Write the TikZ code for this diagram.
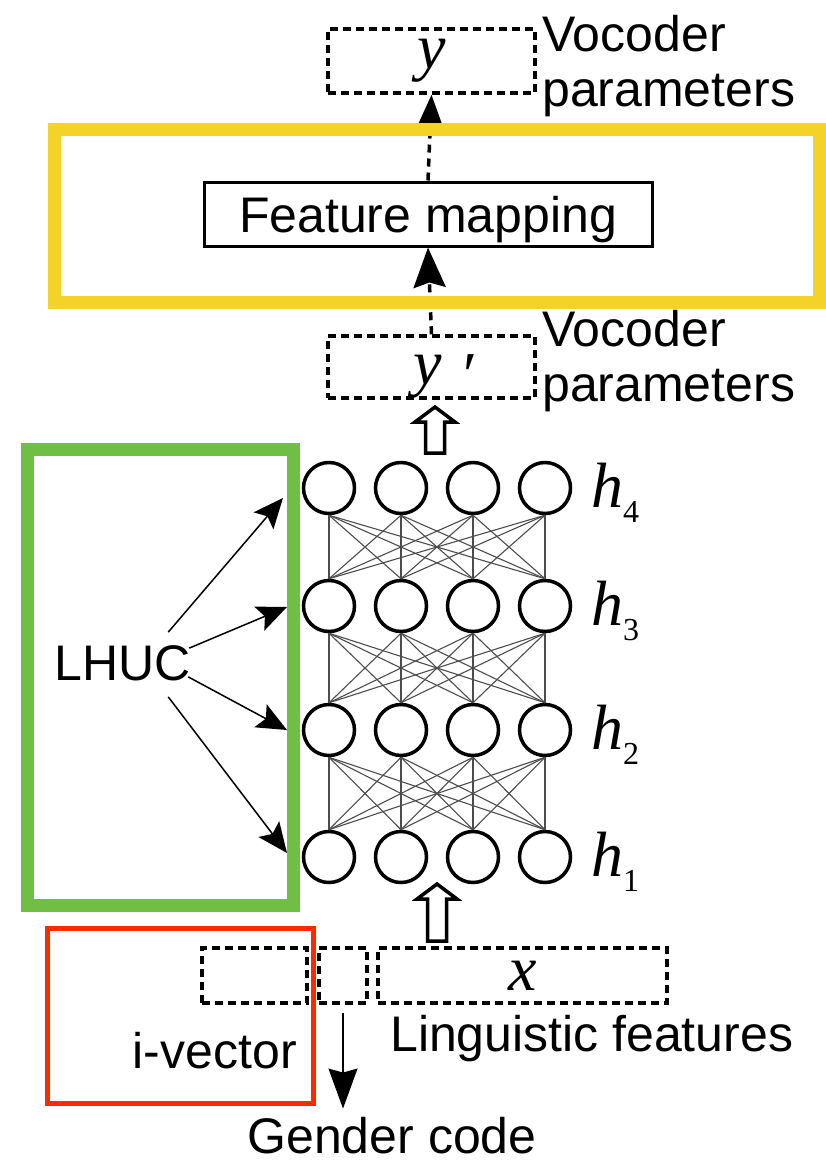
\documentclass[tikz,border=0pt]{standalone}
\usepackage{fontspec}
\setmainfont{Liberation Sans}
\newfontfamily\tms{Liberation Serif}
\usetikzlibrary{arrows.meta, calc}

% frame colours
\definecolor{lhucgreen}{RGB}{112,190,68}
\definecolor{mapyellow}{RGB}{245,210,40}
\definecolor{ivecred}{RGB}{255,42,0}

\tikzset{
  neuron/.style={circle, draw, line width=3.5pt, minimum size=51pt, inner sep=0pt},
  link/.style={line width=1.1pt, draw=black!70},
  vecbox/.style={draw, line width=3.5pt, dash pattern=on 8pt off 5pt, inner sep=0pt},
  mathlbl/.style={font=\fontsize{64}{64}\selectfont\tms\itshape, inner sep=0pt},
  dasharrow/.style={line width=3.5pt, dash pattern=on 8pt off 6pt,
    -{Stealth[length=40pt, width=32pt, inset=5pt]}},
  lhucarrow/.style={line width=1.5pt, -{Stealth[length=30pt, width=26pt, inset=6pt]}},
}

% hollow block arrow: x, tip y, bottom y
\newcommand{\hollowarrow}[3]{%
  \draw[line width=3.5pt, fill=white] (#1,#2) -- (#1+20,#2+15) -- (#1+9.5,#2+15)
    -- (#1+9.5,#3) -- (#1-9.5,#3) -- (#1-9.5,#2+15) -- (#1-20,#2+15) -- cycle;}

\begin{document}
\begin{tikzpicture}[x=1pt, y=-1pt, font=\fontsize{50}{55}\selectfont]

    \useasboundingbox (0,0) rectangle (826,1162);

    % Hidden layers h1..h4, four units each
    \foreach \r/\yy in {1/857, 2/730, 3/606, 4/488} {
        \foreach \c in {1,...,4} {
            \node[neuron] (n\r\c) at ({329+72*(\c-1)}, \yy) {};
        }
        \node[mathlbl, anchor=base west] (h\r) at (591, \yy+19)
            {h\raisebox{-15pt}{\fontsize{32}{32}\selectfont\upshape \r}};
    }

    % Full connections between neighbouring layers
    \foreach \r in {1,2,3} {
        \pgfmathtruncatemacro\up{\r+1}
        \foreach \a in {1,...,4} {
            \foreach \b in {1,...,4} {
                \draw[link] (n\up\a.south) -- (n\r\b.north);
            }
        }
    }

    % Output vectors
    \node[vecbox, minimum width=207pt, minimum height=64pt, mathlbl] (ybox) at (431.5,61) {y};
    \node[vecbox, minimum width=207pt, minimum height=62pt] (ypbox) at (431.5,367) {};
    \node[mathlbl, anchor=base west] (yplbl) at (413,384)
        {y\hspace{18pt}\raisebox{-12pt}{\char"2032}};
    \node[anchor=base west, align=left, inner sep=0pt] (yname) at (542,106) {Vocoder\\parameters};
    \node[anchor=base west, align=left, inner sep=0pt] (ypname) at (542,401) {Vocoder\\parameters};

    % Feature mapping block
    \node[draw, line width=3pt, minimum width=448pt, minimum height=64pt, text depth=0pt]
        (fmap) at (428,214) {Feature mapping};
    \draw[dasharrow] (fmap.north) -- (ybox.south);
    \draw[dasharrow] (ypbox.north) -- (fmap.south);

    % Block arrows into and out of the network
    \hollowarrow{435}{407}{453}
    \hollowarrow{437}{884}{941}

    % Input vectors
    \node[vecbox, minimum width=105pt, minimum height=55pt] (ivbox) at (254.5,975.5) {};
    \node[vecbox, minimum width=48pt, minimum height=55pt] (gbox) at (343,975.5) {};
    \node[vecbox, minimum width=289pt, minimum height=55pt, mathlbl] (xbox) at (522.5,975.5) {x};

    \node[anchor=base west, inner sep=0pt] (ling) at (390,1051) {Linguistic features};
    \node[anchor=base east, inner sep=0pt] (ivec) at (297,1068) {i-vector};
    \node[anchor=base, inner sep=0pt] (gender) at (392,1153) {Gender code};
    \draw[line width=1.5pt, -{Stealth[length=40pt, width=29pt, inset=4pt]},
        shorten <=8pt, shorten >=8pt] (gbox.south) -- (gbox.south |- gender.north);

    % LHUC scaling arrows
    \node[inner sep=0pt] (lhuc) at (123,663) {LHUC};
    \draw[lhucarrow] ([shift={(-23,-13)}]lhuc.north east) -- ([shift={(-46,10)}]n41.center);
    \draw[lhucarrow] ([shift={(-2,3)}]lhuc.north east) -- ([shift={(-42,1)}]n31.center);
    \draw[lhucarrow] ([shift={(-3,-4)}]lhuc.south east) -- ([shift={(-42,0)}]n21.center);
    \draw[lhucarrow] ([shift={(-23,16)}]lhuc.south east) -- ([shift={(-42,-4)}]n11.center);

    % Coloured frames
    \draw[mapyellow, line width=13pt] (54,129) rectangle (819.5,302);
    \draw[lhucgreen, line width=13pt] (27,449) rectangle (293.5,905);
    \draw[ivecred, line width=5pt] (47,928.5) rectangle (313.5,1103.5);

\end{tikzpicture}
\end{document}
